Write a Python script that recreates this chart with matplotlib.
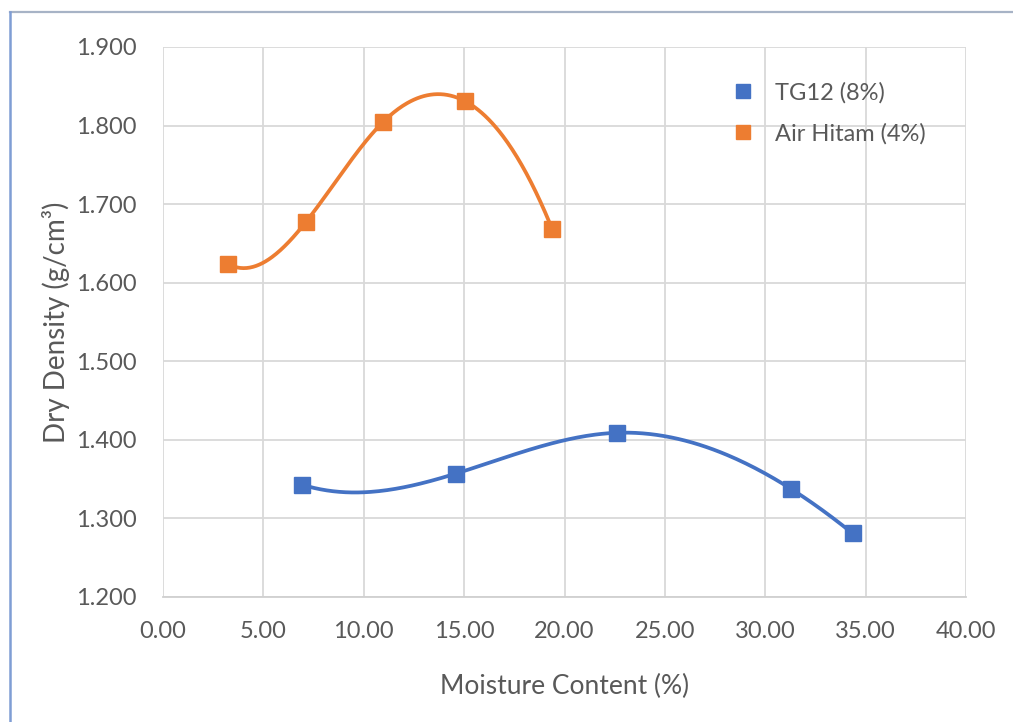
import numpy as np
import matplotlib
matplotlib.use("Agg")
import matplotlib.pyplot as plt
from matplotlib.lines import Line2D

# ---- data ----
tg12_moisture = [6.92, 14.58, 22.61, 31.26, 34.35]
tg12_density = [1.343, 1.357, 1.409, 1.338, 1.281]
air_moisture = [3.22, 7.11, 10.94, 15.05, 19.39]
air_density = [1.624, 1.677, 1.804, 1.831, 1.668]
series_labels = ["TG12 (8%)", "Air Hitam (4%)"]
x_ticks = [0, 5, 10, 15, 20, 25, 30, 35, 40]
y_ticks = [1.2, 1.3, 1.4, 1.5, 1.6, 1.7, 1.8, 1.9]
x_label = "Moisture Content (%)"
y_label = "Dry Density (g/cm\u00b3)"

BLUE = "#4472C4"
ORANGE = "#ED7D31"
TEXT = "#595959"
GRID = "#D9D9D9"
FONT = ["Lato", "DejaVu Sans"]
plt.rcParams["font.family"] = FONT


def smooth(x, y, n=300):
    """Not-a-knot cubic spline through the points (smoothed line)."""
    x = np.asarray(x, float)
    y = np.asarray(y, float)
    k = len(x)
    h = np.diff(x)
    d = np.diff(y) / h
    A = np.zeros((k, k))
    b = np.zeros(k)
    A[0, 0], A[0, 1], A[0, 2] = h[1], -(h[0] + h[1]), h[0]
    for i in range(1, k - 1):
        A[i, i - 1] = h[i - 1]
        A[i, i] = 2 * (h[i - 1] + h[i])
        A[i, i + 1] = h[i]
        b[i] = 6 * (d[i] - d[i - 1])
    A[-1, -3], A[-1, -2], A[-1, -1] = h[-1], -(h[-2] + h[-1]), h[-2]
    M = np.linalg.solve(A, b)
    xs, ys = [], []
    for i in range(k - 1):
        t = np.linspace(x[i], x[i + 1], n // (k - 1))
        hi = h[i]
        v = (M[i] * (x[i + 1] - t) ** 3 / (6 * hi)
             + M[i + 1] * (t - x[i]) ** 3 / (6 * hi)
             + (y[i] / hi - M[i] * hi / 6) * (x[i + 1] - t)
             + (y[i + 1] / hi - M[i + 1] * hi / 6) * (t - x[i]))
        xs.append(t)
        ys.append(v)
    return np.concatenate(xs), np.concatenate(ys)


W, H = 1013, 722
fig = plt.figure(figsize=(W / 100, H / 100), dpi=100)
fig.patch.set_facecolor("white")

ax = fig.add_axes([163 / W, 1 - 597 / H, (966 - 163) / W, (597 - 47) / H])
ax.set_xlim(0, 40)
ax.set_ylim(1.2, 1.9)
ax.set_xticks(x_ticks)
ax.set_yticks(y_ticks)
ax.set_xticklabels([f"{v:.2f}" for v in x_ticks])
ax.set_yticklabels([f"{v:.3f}" for v in y_ticks])
ax.grid(True, color=GRID, linewidth=1.3)
ax.set_axisbelow(True)
for s in ["top", "right", "left"]:
    ax.spines[s].set_visible(False)
ax.spines["bottom"].set_color("#D0D0D0")
ax.spines["bottom"].set_linewidth(1.3)
ax.tick_params(length=0, labelsize=17, labelcolor=TEXT)
ax.tick_params(axis="y", pad=19)
ax.tick_params(axis="x", pad=17)

for xv, yv, col in [(tg12_moisture, tg12_density, BLUE),
                    (air_moisture, air_density, ORANGE)]:
    sx, sy = smooth(xv, yv)
    ax.plot(sx, sy, color=col, linewidth=2.7, solid_capstyle="round", zorder=3)
    ax.plot(xv, yv, linestyle="none", marker="s", markersize=12,
            color=col, zorder=4)

ax.set_xlabel(x_label, fontsize=19, color=TEXT, labelpad=23)
ax.set_ylabel(y_label, fontsize=20, color=TEXT, labelpad=4)

handles = [Line2D([], [], linestyle="none", marker="s", markersize=10, color=c)
           for c in (BLUE, ORANGE)]
ax.legend(handles, series_labels, loc="upper left",
          bbox_to_anchor=(731 / W, 1 - 82 / H), bbox_transform=fig.transFigure,
          frameon=False, fontsize=17, labelcolor=TEXT, handlelength=1.0,
          handletextpad=0.85, borderpad=0, labelspacing=0.81, borderaxespad=0)

# outer chart border (only left and top edges visible in the reference)
fig.add_artist(Line2D([10 / W, 1.0], [1 - 12 / H, 1 - 12 / H],
                      transform=fig.transFigure, color="#A7B3C6", linewidth=1.6))
fig.add_artist(Line2D([10 / W, 10 / W], [0, 1 - 12 / H],
                      transform=fig.transFigure, color="#7F9DD4", linewidth=1.8))

fig.savefig("out.png", dpi=100, facecolor="white")
